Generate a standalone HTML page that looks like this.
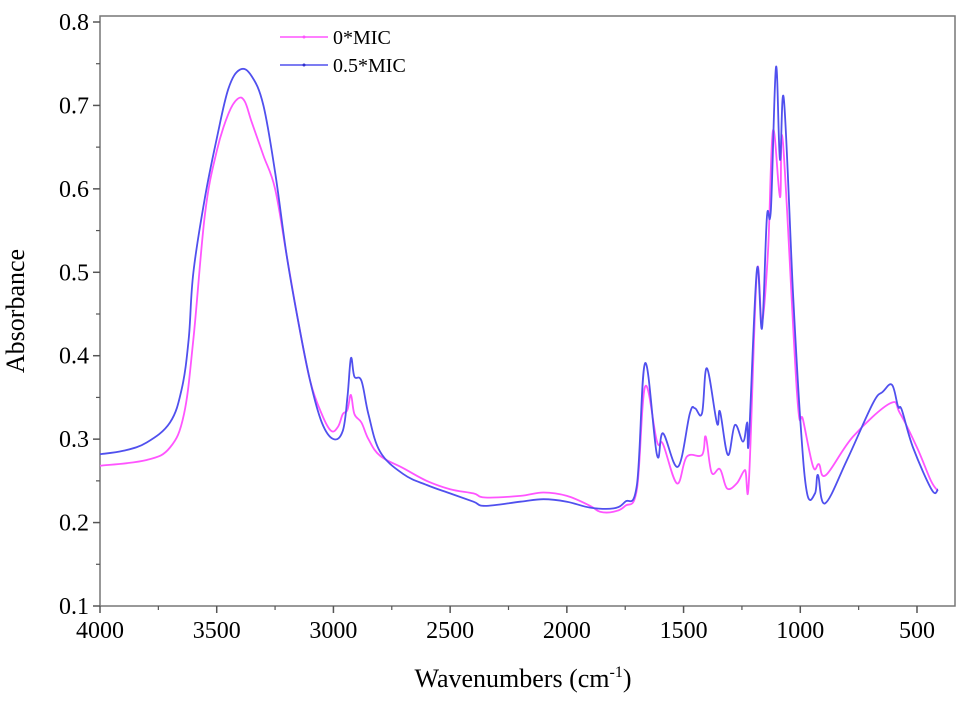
<!DOCTYPE html>
<html><head><meta charset="utf-8"><style>
html,body{margin:0;padding:0;background:#fff;}
svg{display:block;font-family:"Liberation Serif",serif;}
</style></head><body>
<svg id="chart" width="969" height="705" viewBox="0 0 969 705">
<rect x="100" y="16" width="855" height="590" fill="none" stroke="#777" stroke-width="1.5"/>
<g id="axes"></g>
<g id="series"></g>
<text x="24" y="311" font-size="26" text-anchor="middle" transform="rotate(-90 24 311)">Absorbance</text>
<text x="523" y="687" font-size="26" text-anchor="middle">Wavenumbers (cm<tspan font-size="16" dy="-10">-1</tspan><tspan dy="10">)</tspan></text>
<g>
<line x1="280" y1="37" x2="328" y2="37" stroke="#ff55ff" stroke-width="1.5"/>
<circle cx="304" cy="37" r="1.5" fill="#ff55ff"/>
<text x="333" y="44" font-size="20">0*MIC</text>
<line x1="280" y1="65" x2="328" y2="65" stroke="#5050ee" stroke-width="1.5"/>
<circle cx="304" cy="65" r="1.5" fill="#3030cc"/>
<text x="333" y="72" font-size="20">0.5*MIC</text>
</g>
</svg>
<script>
const xTicks=[4000,3500,3000,2500,2000,1500,1000,500];
const yTicks=[0.1,0.2,0.3,0.4,0.5,0.6,0.7,0.8];
const wn0=[4000,3800,3700,3640,3600,3550,3500,3450,3410,3380,3350,3300,3250,3200,3150,3100,3050,3010,2980,2960,2940,2925,2910,2880,2850,2800,2700,2600,2500,2400,2350,2200,2100,2000,1900,1858,1800,1750,1700,1665,1614,1588,1528,1486,1421,1405,1380,1344,1314,1272,1237,1220,1186,1164,1138,1117,1087,1074,1014,988,945,920,890,774,615,573,500,440,410];
const abs0=[0.268,0.275,0.29,0.33,0.42,0.57,0.645,0.69,0.708,0.705,0.68,0.64,0.6,0.52,0.44,0.37,0.33,0.31,0.315,0.33,0.335,0.353,0.33,0.32,0.3,0.28,0.265,0.25,0.24,0.235,0.23,0.232,0.236,0.232,0.22,0.213,0.213,0.22,0.24,0.363,0.297,0.294,0.247,0.279,0.281,0.303,0.26,0.264,0.241,0.247,0.263,0.25,0.5,0.44,0.527,0.67,0.59,0.655,0.355,0.323,0.267,0.27,0.257,0.303,0.343,0.331,0.29,0.25,0.238];
const wn05=[4000,3900,3800,3700,3650,3620,3600,3550,3500,3450,3400,3350,3300,3250,3200,3150,3100,3050,3000,2960,2940,2925,2910,2880,2850,2800,2700,2600,2500,2400,2350,2200,2100,2000,1900,1800,1750,1700,1665,1614,1588,1524,1473,1451,1421,1400,1357,1344,1310,1280,1245,1228,1220,1186,1164,1143,1126,1104,1087,1070,1031,1000,971,937,924,894,800,689,646,607,581,565,517,436,410];
const abs05=[0.282,0.286,0.296,0.32,0.36,0.42,0.5,0.59,0.66,0.72,0.743,0.735,0.7,0.62,0.52,0.44,0.37,0.32,0.3,0.31,0.35,0.397,0.375,0.37,0.33,0.285,0.258,0.245,0.235,0.225,0.22,0.225,0.228,0.225,0.218,0.217,0.225,0.245,0.391,0.281,0.307,0.267,0.331,0.337,0.331,0.385,0.319,0.333,0.281,0.317,0.297,0.32,0.3,0.503,0.433,0.566,0.575,0.746,0.635,0.707,0.475,0.323,0.235,0.235,0.257,0.223,0.275,0.343,0.357,0.365,0.339,0.335,0.29,0.239,0.24];
const NS='http://www.w3.org/2000/svg';
function xs(w){return 100+(4000-w)*(817/3500);}
function ys(v){return 606-(v-0.1)*(584/0.7);}
const axes=document.getElementById('axes');
function mk(tag,attrs,parent){const e=document.createElementNS(NS,tag);for(const k in attrs)e.setAttribute(k,attrs[k]);parent.appendChild(e);return e;}
xTicks.forEach(t=>{
  const l=mk('line',{x1:xs(t),x2:xs(t),y1:606,y2:613,stroke:'#555','stroke-width':1.5},axes);
  
  
  const tx=mk('text',{x:xs(t),y:638,'font-size':24,'text-anchor':'middle'},axes);
  tx.textContent=t;
  
  
});
for(let i=0;i<xTicks.length-1;i++){const m=(xTicks[i]+xTicks[i+1])/2;mk('line',{x1:xs(m),x2:xs(m),y1:606,y2:610,stroke:'#555','stroke-width':1.2},axes);}
yTicks.forEach(t=>{
  const l=mk('line',{x1:93,x2:100,y1:ys(t),y2:ys(t),stroke:'#555','stroke-width':1.5},axes);
  
  
  const tx=mk('text',{x:89,y:ys(t)+8,'font-size':24,'text-anchor':'end'},axes);
  tx.textContent=t.toFixed(1);
  
  
});
for(let i=0;i<yTicks.length-1;i++){const m=(yTicks[i]+yTicks[i+1])/2;mk('line',{x1:96,x2:100,y1:ys(m),y2:ys(m),stroke:'#555','stroke-width':1.2},axes);}
const ser=document.getElementById('series');
function smoothPath(pts){
  let d='M'+pts[0][0].toFixed(1)+','+pts[0][1].toFixed(1);
  const t=0.18;
  for(let i=0;i<pts.length-1;i++){
    const p0=pts[Math.max(0,i-1)],p1=pts[i],p2=pts[i+1],p3=pts[Math.min(pts.length-1,i+2)];
    const c1=[p1[0]+(p2[0]-p0[0])*t,p1[1]+(p2[1]-p0[1])*t];
    const c2=[p2[0]-(p3[0]-p1[0])*t,p2[1]-(p3[1]-p1[1])*t];
    d+='C'+c1[0].toFixed(1)+','+c1[1].toFixed(1)+' '+c2[0].toFixed(1)+','+c2[1].toFixed(1)+' '+p2[0].toFixed(1)+','+p2[1].toFixed(1);
  }
  return d;
}
function draw(w,a,color,name){
  const pts=w.map((x,i)=>[xs(x),ys(a[i])]);
  const p=mk('path',{d:smoothPath(pts),fill:'none',stroke:color,'stroke-width':1.8,'stroke-linejoin':'round'},ser);
  
  
}
draw(wn0,abs0,'#ff55ff','series-0mic');
draw(wn05,abs05,'#5050ee','series-05mic');
</script>
</body></html>
